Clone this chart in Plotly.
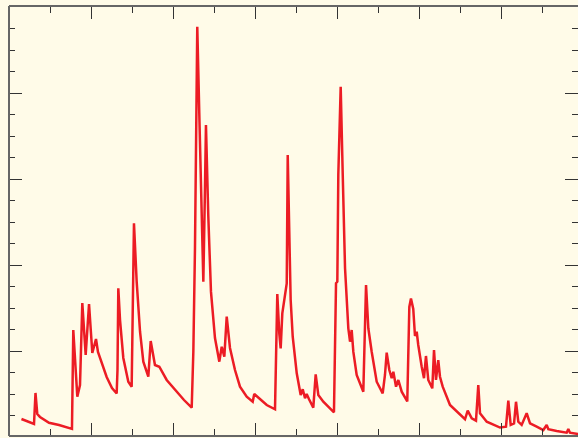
import plotly.graph_objects as go

# Flow series (x: time units, y: discharge units)
x_vals = [1.52, 3.05, 3.23, 3.45, 3.78, 4.88, 6.10, 7.52, 7.68, 7.84, 8.33, 8.66, 8.94, 9.35, 9.76, 10.16,
          10.61, 10.85, 11.10, 11.91, 12.56, 13.13, 13.23, 13.33, 13.54, 13.94, 14.55, 14.96, 15.24, 15.57,
          15.98, 16.38, 16.99, 17.28, 17.80, 18.33, 19.23, 20.45, 21.34, 22.28, 22.48, 22.68, 22.96, 23.21,
          23.50, 23.70, 23.90, 24.02, 24.30, 24.63, 25.12, 25.65, 25.94, 26.26, 26.55, 26.95, 27.56, 28.17,
          28.99, 29.72, 29.91, 30.61, 31.43, 32.44, 32.72, 32.96, 33.13, 33.33, 33.66, 33.87, 33.99, 34.18,
          34.35, 34.60, 35.09, 35.57, 35.82, 36.10, 36.30, 36.59, 37.11, 37.40, 37.72, 38.33, 39.15, 39.63,
          39.88, 40.04, 40.16, 40.45, 40.70, 40.98, 41.38, 41.59, 41.79, 41.99, 42.40, 43.21, 43.54, 43.82,
          44.23, 44.84, 45.57, 45.85, 46.06, 46.38, 46.67, 46.87, 47.20, 47.48, 47.89, 48.57, 48.82, 49.02,
          49.30, 49.51, 49.72, 49.91, 50.33, 50.61, 50.85, 51.13, 51.62, 51.83, 52.07, 52.35, 52.56, 52.89,
          53.78, 54.79, 55.61, 55.94, 56.43, 56.95, 57.23, 57.44, 58.26, 59.88, 60.61, 60.89, 61.18, 61.59,
          61.83, 62.11, 62.52, 63.13, 63.54, 64.35, 65.16, 65.57, 65.77, 66.79, 68.01, 68.21, 68.41, 69.39,
          69.60]
y_vals = [20.9, 15.1, 51.2, 26.7, 23.3, 16.6, 14.0, 10.1, 9.5, 124.4, 46.9, 60.5, 155.8, 95.3, 154.7, 97.7,
          113.9, 98.8, 91.9, 69.8, 57.0, 50.6, 77.9, 172.9, 136.0, 91.9, 64.3, 58.5, 248.5, 180.6,
          122.4, 87.6, 70.1, 111.6, 83.7, 81.7, 66.3, 52.7, 43.0, 34.1, 99.2, 219.8, 477.1, 374.4,
          243.0, 180.6, 289.5, 362.8, 258.1, 169.0, 115.1, 87.6, 105.0, 93.4, 139.9, 103.5, 77.9, 58.5,
          46.9, 41.0, 50.0, 43.8, 37.2, 32.2, 166.3, 120.6, 103.1, 143.8, 163.1, 178.7, 327.9, 229.1,
          159.3, 116.6, 74.1, 48.8, 55.5, 45.0, 50.0, 43.8, 34.1, 72.9, 48.8, 41.0, 33.4, 28.7,
          178.7, 180.6, 304.7, 407.3, 304.7, 196.2, 126.4, 110.8, 124.4, 99.2, 72.1, 52.7, 176.7, 126.4,
          99.2, 64.3, 50.8, 72.1, 98.0, 77.9, 68.3, 75.9, 58.5, 66.3, 52.7, 41.3, 151.2, 161.0,
          148.8, 117.4, 122.4, 107.0, 81.7, 68.3, 94.2, 66.3, 56.6, 101.2, 66.3, 89.5, 70.1, 58.5,
          37.2, 28.3, 20.6, 30.6, 21.7, 19.0, 60.5, 27.6, 17.8, 11.0, 12.0, 42.2, 14.0, 15.9,
          41.0, 17.8, 14.0, 27.6, 15.9, 12.0, 8.1, 14.0, 9.0, 7.0, 5.0, 9.3, 5.0, 3.5,
          3.3]

x_range = [0, 69.39]
y_range = [1.16, 501.16]

BG = "#fffbe8"
FRAME = "#666666"

fig = go.Figure()
fig.add_trace(go.Scatter(x=x_vals, y=y_vals, mode="lines",
                         line=dict(color="#ec1c24", width=2.5),
                         hoverinfo="skip", showlegend=False))

axis_common = dict(showticklabels=False, showgrid=False, zeroline=False,
                   showline=False, mirror="allticks", ticks="inside",
                   tickcolor="#333333", tickwidth=1)

fig.update_xaxes(range=x_range, dtick=10, tick0=0, ticklen=13,
                 minor=dict(ticks="inside", dtick=5, ticklen=7, tickcolor="#333333", tickwidth=1, showgrid=False),
                 **axis_common)
fig.update_yaxes(range=y_range, dtick=100, tick0=0, ticklen=13,
                 minor=dict(ticks="inside", dtick=25, ticklen=6, tickcolor="#333333", tickwidth=1, showgrid=False),
                 **axis_common)

# frame on left, top and bottom only (right side lies at the window edge)
for (x0, y0, x1, y1) in [(0, 0, 0, 1), (0, 1, 1, 1), (0, 0, 1, 0)]:
    fig.add_shape(type="line", xref="paper", yref="paper", x0=x0, y0=y0, x1=x1, y1=y1,
                  line=dict(color=FRAME, width=2), layer="above")

fig.update_layout(width=578, height=438, autosize=False,
                  margin=dict(l=9, r=0, t=6, b=2, pad=0),
                  plot_bgcolor=BG, paper_bgcolor=BG)

fig.write_html("out.html", config={"displayModeBar": False})
